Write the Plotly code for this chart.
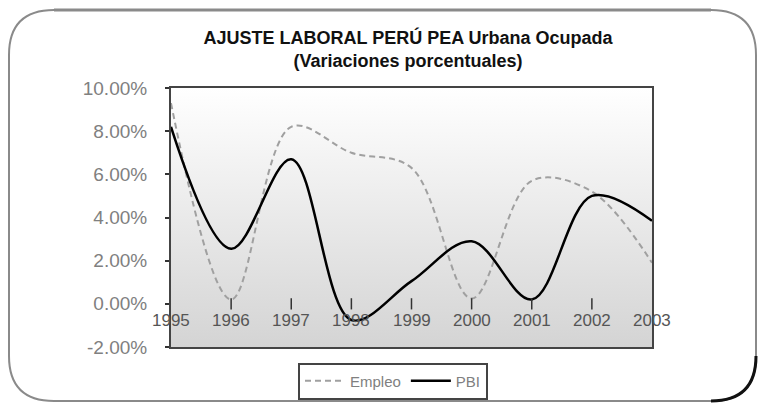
import plotly.graph_objects as go

years = [1995, 1996, 1997, 1998, 1999, 2000, 2001, 2002, 2003]
empleo = [9.3, 0.2, 8.2, 7.0, 6.3, 0.25, 5.7, 5.2, 1.9]
pbi = [8.2, 2.55, 6.7, -0.75, 1.05, 2.9, 0.2, 5.0, 3.85]
y_ticks = [-2, 0, 2, 4, 6, 8, 10]
y_tick_labels = ["-2.00%", "0.00%", "2.00%", "4.00%", "6.00%", "8.00%", "10.00%"]
title_lines = ["AJUSTE LABORAL PERÚ PEA Urbana Ocupada", "(Variaciones porcentuales)"]

W, H = 759, 404
L, R, T, B = 171, 107, 88, 57
pw, ph = W - L - R, H - T - B

def px(x):
    return (x - L) / pw

def py(y):
    return (H - B - y) / ph

xmin, xmax = years[0], years[-1]
ymin, ymax = y_ticks[0], y_ticks[-1]

fig = go.Figure()

# gradient plot background
fig.add_trace(go.Scatter(
    x=[xmin, xmax, xmax, xmin, xmin], y=[ymin, ymin, ymax, ymax, ymin],
    mode="lines", line=dict(width=0), fill="toself",
    fillgradient=dict(type="vertical", colorscale=[[0, "#d4d4d4"], [1, "#ffffff"]]),
    hoverinfo="skip", showlegend=False))

fig.add_trace(go.Scatter(
    x=years, y=empleo, name="Empleo", mode="lines",
    line=dict(color="#a0a0a0", width=2, dash="6px,4px", shape="spline", smoothing=1.0)))
fig.add_trace(go.Scatter(
    x=years, y=pbi, name="PBI", mode="lines",
    line=dict(color="#000000", width=2.5, shape="spline", smoothing=1.0)))

# tick marks on the zero line
fig.add_trace(go.Scatter(
    x=years[1:-1], y=[0] * (len(years) - 2), mode="markers",
    marker=dict(symbol="line-ns", size=8, line=dict(width=1.5, color="#333333")),
    hoverinfo="skip", showlegend=False))

for yr in years:
    fig.add_annotation(x=yr, y=0, xref="x", yref="y", text=str(yr), showarrow=False,
                       yanchor="top", yshift=-5, font=dict(size=17, color="#555555"))

# rounded chart frame
r = 45
x0, x1, y0, y1 = 9, 756, 10, 401
path = (f"M {px(x0 + r)},{py(y0)} L {px(x1 - r)},{py(y0)} "
        f"Q {px(x1)},{py(y0)} {px(x1)},{py(y0 + r)} "
        f"L {px(x1)},{py(y1 - r)} Q {px(x1)},{py(y1)} {px(x1 - r)},{py(y1)} "
        f"L {px(x0 + r)},{py(y1)} Q {px(x0)},{py(y1)} {px(x0)},{py(y1 - r)} "
        f"L {px(x0)},{py(y0 + r)} Q {px(x0)},{py(y0)} {px(x0 + r)},{py(y0)} Z")
fig.add_shape(type="path", path=path, xref="paper", yref="paper",
              line=dict(color="#8a8a8a", width=2), layer="below")
# thicker top edge
fig.add_shape(type="line", x0=px(x0 + r), x1=px(x1 - r), y0=py(y0), y1=py(y0),
              xref="paper", yref="paper", line=dict(color="#8a8a8a", width=3))
# dark shadow corner bottom-right
shadow = (f"M {px(x1)},{py(y1 - r)} Q {px(x1)},{py(y1)} {px(x1 - r)},{py(y1)}")
fig.add_shape(type="path", path=shadow, xref="paper", yref="paper",
              line=dict(color="#111111", width=3))

fig.update_layout(
    width=W, height=H,
    margin=dict(l=L, r=R, t=T, b=B, autoexpand=False),
    paper_bgcolor="white", plot_bgcolor="white",
    font=dict(family="Liberation Sans, Arial, sans-serif"),
    title=dict(text="<b>" + title_lines[0] + "</b><br><b>" + title_lines[1] + "</b>",
               x=408 / W, xanchor="center", xref="container",
               y=1 - 44 / H, yanchor="top", yref="container",
               font=dict(size=18, color="#111111")),
    showlegend=True,
    legend=dict(orientation="h", x=px(393), y=py(381), xanchor="center", yanchor="middle",
                bordercolor="#444444", borderwidth=2, bgcolor="white",
                font=dict(size=15, color="#808080"), itemwidth=40,
                tracegroupgap=0),
    xaxis=dict(range=[xmin, xmax], showgrid=False, zeroline=False, showticklabels=False,
               showline=True, mirror=True, linecolor="#444444", linewidth=2, ticks=""),
    yaxis=dict(range=[ymin, ymax], tickvals=y_ticks, ticktext=y_tick_labels,
               showgrid=False, zeroline=True, zerolinecolor="#444444", zerolinewidth=2,
               showline=True, mirror=True, linecolor="#444444", linewidth=2,
               ticks="outside", ticklen=4, tickcolor="#333333", tickwidth=2,
               ticklabelstandoff=14,
               tickfont=dict(size=19, color="#808080")),
)

fig.write_html("out.html", post_script="document.body.style.margin='0';",
               config={"displayModeBar": False})
